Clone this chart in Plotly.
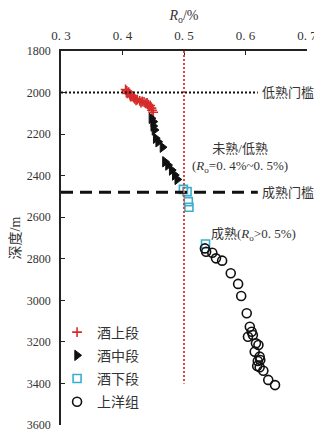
import plotly.graph_objects as go

# ---------------- data ----------------
upper_ro = [0.405, 0.407, 0.410, 0.408, 0.412, 0.415, 0.413, 0.418, 0.420, 0.424, 0.422,
            0.428, 0.432, 0.430, 0.435, 0.438, 0.440, 0.442, 0.445, 0.443, 0.447, 0.448, 0.450]
upper_depth = [1985, 1992, 1998, 2004, 2010, 2015, 2020, 2024, 2030, 2034, 2038,
               2040, 2043, 2048, 2045, 2052, 2050, 2058, 2062, 2068, 2075, 2085, 2095]

middle_ro = [0.447, 0.450, 0.450, 0.452, 0.454, 0.458, 0.465, 0.469, 0.474, 0.480, 0.485, 0.489]
middle_depth = [2124, 2140, 2161, 2180, 2220, 2237, 2263, 2333, 2349, 2373, 2397, 2418]

lower_ro = [0.499, 0.505, 0.507, 0.508, 0.535]
lower_depth = [2466, 2477, 2525, 2552, 2729]

sy_ro = [0.534, 0.536, 0.546, 0.552, 0.562, 0.576, 0.588, 0.593, 0.602, 0.607, 0.610, 0.612,
         0.604, 0.617, 0.621, 0.615, 0.623, 0.624, 0.620, 0.619, 0.623, 0.629, 0.637, 0.648]
sy_depth = [2750, 2766, 2771, 2798, 2809, 2870, 2921, 2979, 3062, 3127, 3151, 3167,
            3175, 3207, 3215, 3247, 3271, 3287, 3292, 3316, 3322, 3339, 3383, 3408]

low_mature_depth = 2000
mature_depth = 2480
threshold_line_end_ro = 0.62
ro_threshold = 0.5
ro_line_depth = [1800, 3400]

x_ticks = [0.3, 0.4, 0.5, 0.6, 0.7]
x_ticktext = ["0. 3", "0. 4", "0. 5", "0. 6", "0. 7"]
y_ticks = [1800, 2000, 2200, 2400, 2600, 2800, 3000, 3200, 3400, 3600]

FONT = "Liberation Serif, Noto Sans CJK SC, serif"
TXT = "#333333"

fig = go.Figure()

fig.add_trace(go.Scatter(x=upper_ro, y=upper_depth, mode="markers", name="酒上段",
                         legendgroup="a",
                         marker=dict(symbol="cross-thin", size=7, color="#d62b2b",
                                     line=dict(color="#d62b2b", width=1.6))))
fig.add_trace(go.Scatter(x=middle_ro, y=middle_depth, mode="markers", name="酒中段",
                         legendgroup="b",
                         marker=dict(symbol="triangle-right", size=9, color="#111111",
                                     line=dict(color="#111111", width=1))))
fig.add_trace(go.Scatter(x=lower_ro, y=lower_depth, mode="markers", name="酒下段",
                         legendgroup="c",
                         marker=dict(symbol="square-open", size=8, color="#3aaed0",
                                     line=dict(color="#3aaed0", width=1.6))))
fig.add_trace(go.Scatter(x=sy_ro, y=sy_depth, mode="markers", name="上洋组",
                         legendgroup="d",
                         marker=dict(symbol="circle-open", size=9, color="#111111",
                                     line=dict(color="#111111", width=1.6))))

# threshold lines
fig.add_shape(type="line", xref="x", yref="y", x0=0.3, x1=threshold_line_end_ro,
              y0=low_mature_depth, y1=low_mature_depth,
              line=dict(color="#111111", width=2, dash="2px,2px"))
fig.add_shape(type="line", xref="x", yref="y", x0=0.3, x1=threshold_line_end_ro,
              y0=mature_depth, y1=mature_depth,
              line=dict(color="#111111", width=3, dash="12px,7px"))
fig.add_shape(type="line", xref="x", yref="y", x0=ro_threshold, x1=ro_threshold,
              y0=ro_line_depth[0], y1=ro_line_depth[1],
              line=dict(color="#e0453a", width=2, dash="2px,2px"))

# annotations
fig.add_annotation(x=threshold_line_end_ro, y=low_mature_depth, xref="x", yref="y",
                   text="低熟门槛", showarrow=False, xanchor="left", xshift=2,
                   font=dict(family=FONT, size=13, color=TXT))
fig.add_annotation(x=threshold_line_end_ro, y=mature_depth, xref="x", yref="y",
                   text="成熟门槛", showarrow=False, xanchor="left", xshift=2,
                   font=dict(family=FONT, size=13, color=TXT))
fig.add_annotation(x=0.591, y=2313, xref="x", yref="y",
                   text="未熟/低熟<br>(<i>R</i><sub>o</sub>=0. 4%~0. 5%)", showarrow=False,
                   align="center",
                   font=dict(family=FONT, size=13, color=TXT))
fig.add_annotation(x=0.613, y=2683, xref="x", yref="y",
                   text="成熟(<i>R</i><sub>o</sub>>0. 5%)", showarrow=False,
                   font=dict(family=FONT, size=13, color=TXT))

# the page body has an 8px margin, so the figure is sized to fit the 322x435 window
fig.update_layout(
    width=314, height=427,
    margin=dict(l=53, r=15, t=43, b=10),
    paper_bgcolor="white", plot_bgcolor="white",
    font=dict(family=FONT, size=13, color=TXT),
    showlegend=True,
    legend=dict(x=-0.016, y=0.29, xanchor="left", yanchor="top",
                bgcolor="rgba(0,0,0,0)", font=dict(family=FONT, size=14, color=TXT),
                itemwidth=30, tracegroupgap=2),
    xaxis=dict(side="top", range=[0.3, 0.7], tickvals=x_ticks, ticktext=x_ticktext,
               showgrid=False, zeroline=False, showline=True, linecolor="#222222",
               linewidth=1.5, ticks="inside", ticklen=4, tickcolor="#222222",
               ticklabelstandoff=4, automargin=False,
               tickfont=dict(family=FONT, size=13, color=TXT),
               title=dict(text="<i>R</i><sub>o</sub>/%", standoff=8,
                          font=dict(family=FONT, size=14, color=TXT))),
    yaxis=dict(range=[3600, 1800], tickvals=y_ticks, showgrid=False, zeroline=False,
               showline=True, linecolor="#222222", linewidth=1.5, ticks="inside",
               ticklen=4, tickcolor="#222222", ticklabelstandoff=6, automargin=False,
               tickfont=dict(family=FONT, size=12, color=TXT),
               title=dict(text="深度/m", standoff=6,
                          font=dict(family=FONT, size=14, color=TXT))),
)

fig.write_html("out.html")
